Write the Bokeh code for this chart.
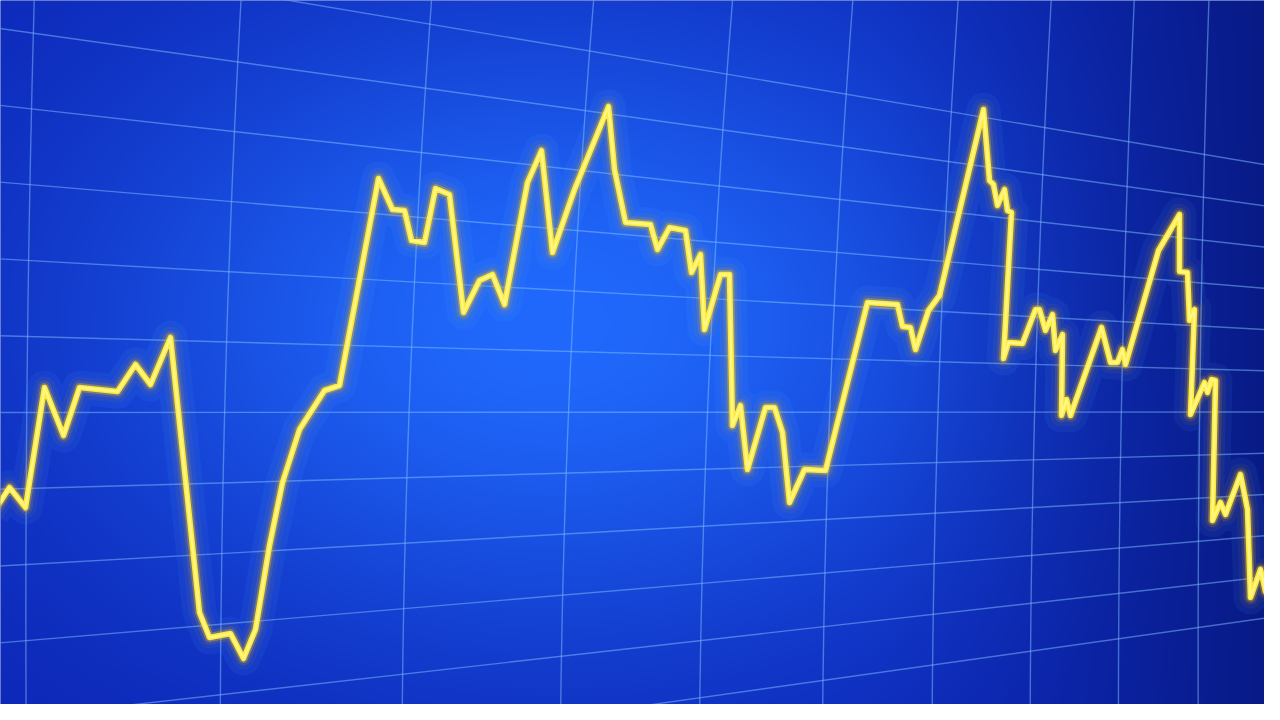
import numpy as np
from bokeh.plotting import figure
from bokeh.models import Range1d, ColumnDataSource
from bokeh.embed import file_html
from bokeh.resources import INLINE

# ---- series: time position and level ----
t = [0, 17, 33, 52, 71, 87, 125, 143, 158, 178,
     207, 217, 238, 251, 263, 277, 290, 307, 332, 347,
     386, 400, 412, 419, 432, 443, 457, 471, 487, 500,
     512, 535, 549, 560, 582, 616, 622, 633, 658, 665,
     677, 693, 699, 708, 712, 728, 737, 740, 748, 755,
     773, 782, 790, 797, 812, 833, 875, 905, 910, 918,
     923, 936, 947, 991, 997, 1001, 1005, 1012, 1015, 1019,
     1011, 1016, 1030, 1043, 1047, 1053, 1060, 1063, 1070, 1069,
     1074, 1078, 1109, 1118, 1125, 1130, 1133, 1166, 1187, 1187,
     1195, 1197, 1202, 1198, 1212, 1215, 1219, 1223, 1220, 1228,
     1233, 1248, 1255, 1258, 1268, 1273, 1280]
level = [199, 225, 205, 325, 277, 325, 321, 348, 328, 375,
         100, 75, 79, 54, 83, 167, 230, 283, 322, 327,
         534, 503, 502, 472, 470, 524, 518, 400, 432, 438,
         408, 530, 562, 460, 523, 606, 543, 490, 488, 463,
         485, 482, 440, 458, 383, 438, 438, 287, 307, 243,
         305, 305, 280, 210, 243, 242, 410, 408, 386, 385,
         363, 402, 417, 603, 532, 528, 507, 523, 502, 500,
         354, 370, 369, 403, 403, 382, 398, 362, 378, 297,
         313, 297, 385, 350, 350, 363, 348, 462, 498, 441,
         440, 392, 403, 298, 330, 320, 333, 332, 192, 210,
         198, 238, 203, 115, 143, 121, 137]

# perspective grid: row and column indices
grid_rows = list(range(-6, 6))
grid_cols = list(range(0, 11))

W_PX, H_PX = 1264, 704
X0, X1, Y0, Y1 = 8, 1272, 8, 712

p = figure(width=W_PX, height=H_PX, x_range=Range1d(X0, X1), y_range=Range1d(Y0, Y1),
           output_backend="svg", toolbar_location=None, min_border=0,
           x_axis_location=None, y_axis_location=None)
try:
    p.xgrid.grid_line_color = None
    p.ygrid.grid_line_color = None
except Exception:
    pass
p.outline_line_color = None
p.background_fill_color = "#0f2cb4"
p.border_fill_color = "#0f2cb4"

# ---- background gradient (screen-like glow) ----
RW, RH = 632, 352
sx = X0 + (np.arange(RW) + 0.5) * (X1 - X0) / RW
sy = Y0 + (np.arange(RH) + 0.5) * (Y1 - Y0) / RH   # screen y, top->bottom
X, Y = np.meshgrid(sx, sy)
hi = np.exp(-(((X - 560) / 480.0) ** 2 + ((Y - 330) / 330.0) ** 2))
base = np.array([12, 36, 180], dtype=float)
bright = np.array([32, 105, 252], dtype=float)
col = base + (bright - base) * hi[..., None]
v = np.clip((X - 850) / 430.0, 0, 1) ** 1.6
dark = np.array([8, 26, 132], dtype=float)
col = col * (1 - v[..., None]) + dark * v[..., None]
col = np.clip(col, 0, 255).astype(np.uint8)
img = np.empty((RH, RW), dtype=np.uint32)
view = img.view(dtype=np.uint8).reshape((RH, RW, 4))
view[..., 0] = col[..., 0]
view[..., 1] = col[..., 1]
view[..., 2] = col[..., 2]
view[..., 3] = 255
img = img[::-1].copy()
p.image_rgba(image=[img], x=X0, y=Y0, dw=X1 - X0, dh=Y1 - Y0)

# ---- perspective grid ----
XV, HY = 2738.0, 419.0
gx, gy = [], []
for k in grid_rows:
    y0 = 420 + 77 * k
    xs = np.array([0.0, 1280.0])
    ys = HY + (y0 - HY) * (XV - xs) / XV
    gx.append(list(xs))
    gy.append(list(720 - ys))
for k in grid_cols:
    xm = XV - 1e4 / (3.672 + 0.3178 * k)
    xm = xm + 25 * np.exp(-max(xm, 0) / 60.0)   # lens bulge at the left edge
    s = np.sin(np.pi * np.clip(xm, 0, 1280) / 1280)
    dt = 6 + 20 * s
    db = -8 * s
    ys = np.linspace(0, 720, 40)
    L0 = (ys - 420) * (ys - 720) / ((0 - 420) * (0 - 720))
    L1 = (ys - 0) * (ys - 720) / (420 * (420 - 720))
    L2 = (ys - 0) * (ys - 420) / (720 * 300)
    xs = (xm + dt) * L0 + xm * L1 + (xm + db) * L2
    gx.append(list(xs))
    gy.append(list(720 - ys))
p.multi_line(gx, gy, line_color="#82beff", line_alpha=0.5, line_width=1.4)

# ---- glowing series line ----
src = ColumnDataSource(dict(t=t, level=level))
p.line("t", "level", source=src, line_color="#66b3ff", line_alpha=0.07, line_width=34, line_join="round")
p.line("t", "level", source=src, line_color="#ffb000", line_alpha=0.06, line_width=22, line_join="round")
p.line("t", "level", source=src, line_color="#ffc000", line_alpha=0.12, line_width=14, line_join="round")
p.line("t", "level", source=src, line_color="#ffcf1a", line_alpha=0.30, line_width=9, line_join="round")
p.line("t", "level", source=src, line_color="#ffe93a", line_alpha=1.0, line_width=5.6, line_join="round")
p.line("t", "level", source=src, line_color="#fff88c", line_alpha=0.9, line_width=2.4, line_join="round")

open("out.html", "w").write(file_html(p, INLINE))
